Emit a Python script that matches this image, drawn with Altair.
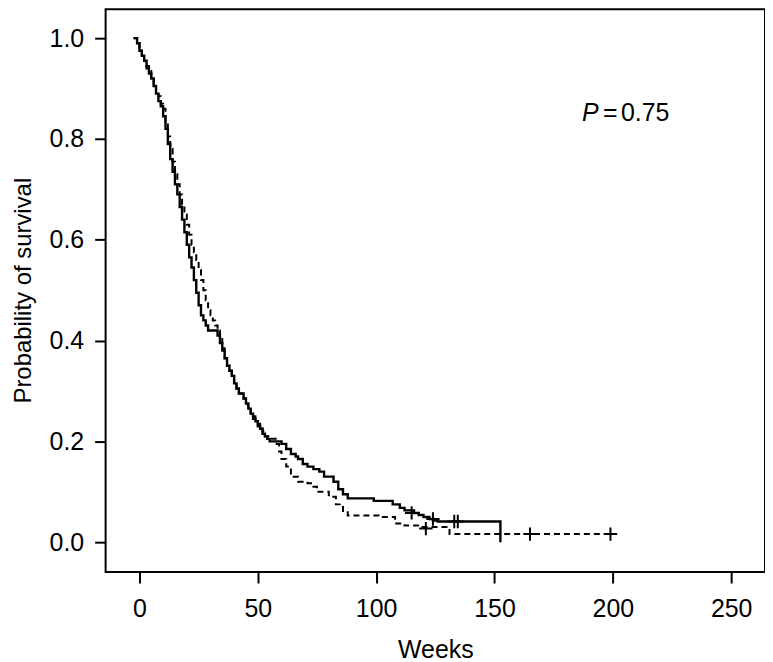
import altair as alt
import pandas as pd

# Solid curve (group A): event times (weeks) and survival after each step
solid_t = [-2.5, -1, 0, 1, 2, 3, 4, 5, 6, 7, 8, 9, 10, 11, 12, 13, 14, 15, 16, 17, 18, 19, 20, 21,
           22, 23, 24, 25, 26, 27, 28, 29, 33, 34, 35, 36, 37, 38, 39, 40, 41, 42, 44, 45, 46, 47,
           48, 49, 50, 51, 52, 53, 54, 55, 60, 62, 64, 66, 67, 69, 71, 73.5, 76, 78, 82, 84, 86, 88,
           99, 107, 110, 112, 116, 118, 120, 122.5, 124, 126, 152.5]
solid_s = [1.0, 0.99, 0.975, 0.965, 0.955, 0.94, 0.93, 0.92, 0.905, 0.89, 0.875, 0.865, 0.845, 0.82,
           0.79, 0.76, 0.735, 0.71, 0.69, 0.665, 0.64, 0.615, 0.59, 0.565, 0.545, 0.52, 0.495, 0.47,
           0.45, 0.44, 0.43, 0.42, 0.41, 0.395, 0.38, 0.365, 0.35, 0.34, 0.33, 0.315, 0.305, 0.295,
           0.285, 0.275, 0.265, 0.255, 0.245, 0.24, 0.23, 0.225, 0.215, 0.21, 0.205, 0.2, 0.195,
           0.185, 0.175, 0.17, 0.165, 0.155, 0.15, 0.145, 0.14, 0.13, 0.12, 0.105, 0.095, 0.087,
           0.082, 0.075, 0.068, 0.063, 0.058, 0.054, 0.05, 0.046, 0.043, 0.041, 0.0]
solid_censor_t = [115, 124, 133, 134.5]
solid_censor_s = [0.058, 0.046, 0.041, 0.041]

# Dashed curve (group B)
dashed_t = [-2.5, -1, 0, 1, 2, 3, 4, 5, 6, 7, 8, 9, 10, 11, 12, 13, 14, 15, 16, 17, 18, 19, 20, 21,
            22, 23, 24, 25, 26, 27, 28, 29, 30, 31, 32, 33, 34, 35, 36, 37, 38, 39, 40, 41, 42, 44,
            45, 46, 47, 48, 49, 50, 51, 52, 53, 55, 58, 59, 60, 62, 64, 67, 71, 73.5, 75, 80, 83,
            86, 88, 101, 108, 112, 119, 131]
dashed_s = [1.0, 0.99, 0.975, 0.965, 0.955, 0.945, 0.935, 0.925, 0.91, 0.895, 0.885, 0.87, 0.86,
            0.835, 0.805, 0.78, 0.755, 0.73, 0.71, 0.69, 0.67, 0.65, 0.63, 0.61, 0.59, 0.575, 0.56,
            0.54, 0.52, 0.5, 0.48, 0.46, 0.45, 0.44, 0.43, 0.42, 0.41, 0.385, 0.365, 0.35, 0.34,
            0.33, 0.315, 0.305, 0.295, 0.285, 0.275, 0.265, 0.255, 0.25, 0.24, 0.235, 0.225, 0.22,
            0.21, 0.205, 0.195, 0.18, 0.165, 0.15, 0.13, 0.12, 0.117, 0.11, 0.1, 0.09, 0.075,
            0.062, 0.053, 0.05, 0.037, 0.033, 0.03, 0.016]
dashed_end_t = 199
dashed_censor_t = [121, 165, 199]
dashed_censor_s = [0.027, 0.016, 0.016]

x_ticks = [0, 50, 100, 150, 200, 250]
y_ticks = [0.0, 0.2, 0.4, 0.6, 0.8, 1.0]

X_DOM = [-14.3, 264.3]
Y_DOM = [-0.0593, 1.0573]

solid_df = pd.DataFrame({"t": solid_t, "s": solid_s})
dashed_df = pd.DataFrame({"t": dashed_t + [dashed_end_t], "s": dashed_s + [dashed_s[-1]]})
censor_solid = pd.DataFrame({"t": solid_censor_t, "s": solid_censor_s})
censor_dashed = pd.DataFrame({"t": dashed_censor_t, "s": dashed_censor_s})

FONT = "Liberation Sans"
FS = 25

xenc = alt.X("t:Q", scale=alt.Scale(domain=X_DOM, nice=False, zero=False),
             axis=alt.Axis(values=x_ticks, title="Weeks", format="d",
                           labelPadding=14, titlePadding=16))
yenc = alt.Y("s:Q", scale=alt.Scale(domain=Y_DOM, nice=False, zero=False),
             axis=alt.Axis(values=y_ticks, title="Probability of survival", format=".1f",
                           labelPadding=11, titleX=-75, titleY=282, titleAngle=270,
                           titleAlign="center", titleBaseline="alphabetic",
                           titleFontSize=24))

solid_line = alt.Chart(solid_df).mark_line(
    interpolate="step-after", color="black", strokeWidth=2.4
).encode(x=xenc, y=yenc)

dashed_line = alt.Chart(dashed_df).mark_line(
    interpolate="step-after", color="black", strokeWidth=2.0, strokeDash=[6, 4]
).encode(x="t:Q", y="s:Q")

plus = "M0,-1L0,1M-1,0L1,0"
cs = alt.Chart(censor_solid).mark_point(
    shape=plus, size=180, color="black", strokeWidth=2, filled=False, opacity=1
).encode(x="t:Q", y="s:Q")
cd = alt.Chart(censor_dashed).mark_point(
    shape=plus, size=180, color="black", strokeWidth=2, filled=False, opacity=1
).encode(x="t:Q", y="s:Q")

ann_df = pd.DataFrame({"t": [187.0], "s": [0.852], "p": ["P"], "eq": ["="], "v": ["0.75"]})
ann_p = alt.Chart(ann_df).mark_text(
    font=FONT, fontSize=FS, fontStyle="italic", align="left", baseline="middle", color="black"
).encode(x="t:Q", y="s:Q", text="p:N")
ann_eq = alt.Chart(ann_df).mark_text(
    font=FONT, fontSize=FS, align="left", baseline="middle", color="black", dx=21
).encode(x="t:Q", y="s:Q", text="eq:N")
ann_v = alt.Chart(ann_df).mark_text(
    font=FONT, fontSize=FS, align="left", baseline="middle", color="black", dx=39
).encode(x="t:Q", y="s:Q", text="v:N")

chart = alt.layer(solid_line, dashed_line, cs, cd, ann_p, ann_eq, ann_v).properties(
    width=662, height=565,
    autosize=alt.AutoSizeParams(type="none"),
    padding={"left": 98, "top": 0, "right": 0, "bottom": 89},
).configure_view(
    stroke="black", strokeWidth=2
).configure_axis(
    domain=False, grid=False, ticks=True, tickColor="black", tickWidth=2, tickSize=11,
    labelFont=FONT, labelFontSize=FS, labelColor="black",
    titleFont=FONT, titleFontSize=FS, titleColor="black", titleFontWeight="normal",
)

chart.save("out.html", embed_options={"renderer": "svg", "actions": False})
